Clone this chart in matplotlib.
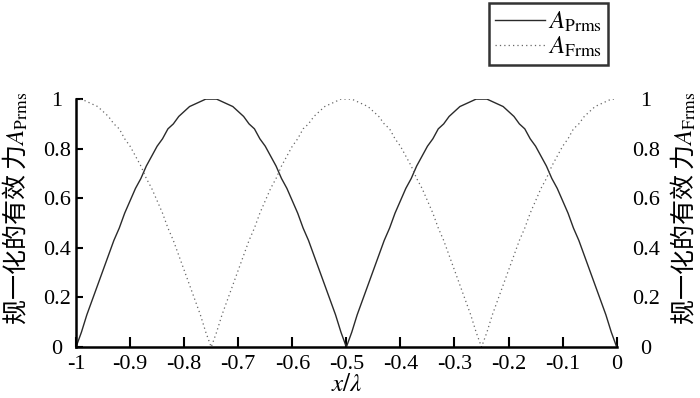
"""归一化有效力 A_Prms / A_Frms 随 x/λ 的分布。"""

import matplotlib

matplotlib.use("Agg")
import matplotlib.pyplot as plt  # noqa: E402
import numpy as np  # noqa: E402

plt.rcParams["font.family"] = ["Liberation Serif", "DejaVu Serif"]
plt.rcParams["mathtext.fontset"] = "stix"
plt.rcParams["axes.unicode_minus"] = False

# x/λ 采样点 (-1 .. 0, 步长 0.01)
x_pos = np.linspace(-1.0, 0.0, 101)

a_prms = [
    0, .06, .13, .19, .25, .31, .37, .43, .48, .54, .59, .64, .68, .73, .77, .81, .84, .88, .90, .93,
    .95, .97, .98, .99, 1.0, 1.0,
    1.0, .99, .98, .97, .95, .93, .90, .88, .84, .81, .77, .73, .68, .64, .59, .54, .48, .43, .37, .31,
    .25, .19, .13, .06, 0,
    .06, .13, .19, .25, .31, .37, .43, .48, .54, .59, .64, .68, .73, .77, .81, .84, .88, .90, .93, .95,
    .97, .98, .99, 1.0, 1.0,
    1.0, .99, .98, .97, .95, .93, .90, .88, .84, .81, .77, .73, .68, .64, .59, .54, .48, .43, .37, .31,
    .25, .19, .13, .06, 0,
]

a_frms = [
    1.0, 1.0, .99, .98, .97, .95, .93, .90, .88, .84, .81, .77, .73, .68, .64, .59, .54, .48, .43, .37,
    .31, .25, .19, .13, .06, 0,
    .06, .13, .19, .25, .31, .37, .43, .48, .54, .59, .64, .68, .73, .77, .81, .84, .88, .90, .93, .95,
    .97, .98, .99, 1.0, 1.0,
    1.0, .99, .98, .97, .95, .93, .90, .88, .84, .81, .77, .73, .68, .64, .59, .54, .48, .43, .37, .31,
    .25, .19, .13, .06, 0,
    .06, .13, .19, .25, .31, .37, .43, .48, .54, .59, .64, .68, .73, .77, .81, .84, .88, .90, .93, .95,
    .97, .98, .99, 1.0, 1.0,
]

x_ticks = [-1, -0.9, -0.8, -0.7, -0.6, -0.5, -0.4, -0.3, -0.2, -0.1, 0]
x_ticklabels = ["-1", "-0.9", "-0.8", "-0.7", "-0.6", "-0.5", "-0.4", "-0.3", "-0.2", "-0.1", "0"]
y_ticks = [0, 0.2, 0.4, 0.6, 0.8, 1]
y_ticklabels = ["0", "0.2", "0.4", "0.6", "0.8", "1"]

cjk = ["Noto Sans CJK SC", "DejaVu Sans"]

fig = plt.figure(figsize=(7.0, 3.98), dpi=100)
ax = fig.add_axes([0.1086, 0.128, 0.7724, 0.623])

ax.plot(x_pos, a_prms, color="#2a2a2a", lw=1.0, label=r"$A_{\mathrm{Prms}}$")
ax.plot(x_pos, a_frms, color="#666666", lw=0.9, ls=(0, (1, 2.5)), label=r"$A_{\mathrm{Frms}}$")

ax.set_xlim(-1, 0)
ax.set_ylim(0, 1)
ax.set_xticks(x_ticks)
ax.set_xticklabels(x_ticklabels)
ax.set_yticks(y_ticks)
ax.set_yticklabels(y_ticklabels, ha="center")
ax.tick_params(axis="x", direction="in", length=7, width=1.5, labelsize=16, pad=6)
ax.tick_params(axis="y", direction="in", length=5, width=1.5, labelsize=16, pad=14)
for side in ("top", "right"):
    ax.spines[side].set_visible(False)
for side in ("left", "bottom"):
    ax.spines[side].set_linewidth(1.8)

ax.set_xlabel(r"$x/\lambda$", fontsize=18, labelpad=0)
ax.set_ylabel(r"规一化的有效 力$A_{\mathrm{Prms}}$", fontsize=18, family=cjk)
ax.yaxis.set_label_coords(-0.083, 0.56)

ax2 = ax.twinx()
ax2.set_ylim(0, 1)
ax2.set_yticks(y_ticks)
ax2.set_yticklabels(y_ticklabels, ha="center")
ax2.tick_params(axis="y", length=0, labelsize=16, pad=21)
for side in ("top", "right", "left", "bottom"):
    ax2.spines[side].set_visible(False)
ax2.set_ylabel(r"规一化的有效 力$A_{\mathrm{Frms}}$", fontsize=18, family=cjk, rotation=90)
ax2.yaxis.set_label_coords(1.098, 0.56)

leg = ax.legend(loc="upper right", bbox_to_anchor=(608 / 700, 1 - 3 / 398),
                bbox_transform=fig.transFigure, fontsize=18, frameon=True, fancybox=False,
                borderaxespad=0, handlelength=2.0, handletextpad=0.1, borderpad=0.25,
                labelspacing=0.05)
leg.get_frame().set_edgecolor("black")
leg.get_frame().set_linewidth(1.8)

fig.savefig("out.png")
